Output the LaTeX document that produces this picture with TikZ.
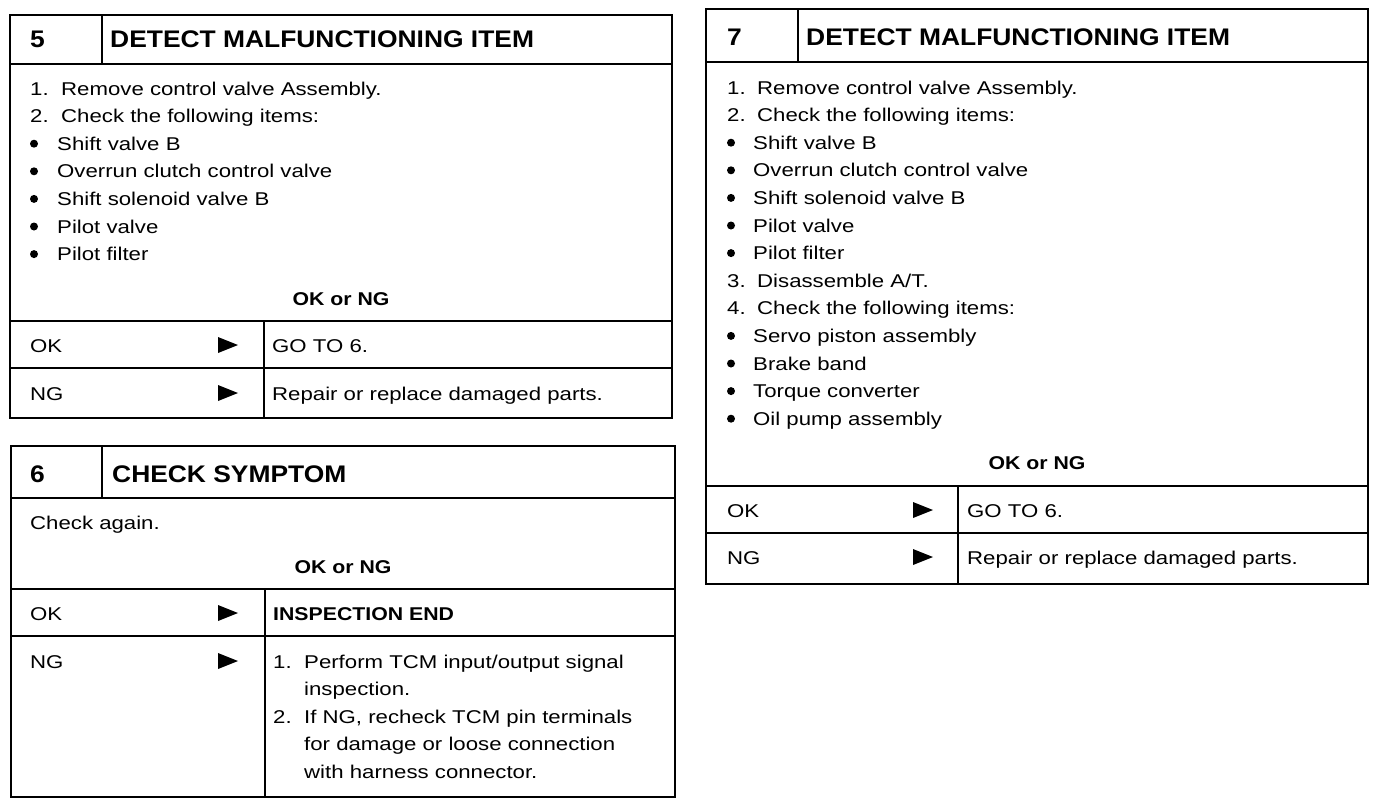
\documentclass[tikz,border=0pt]{standalone}
\usepackage{fontspec}
\newfontfamily\bodyf{Liberation Sans}[FakeStretch=1.2]
\newfontfamily\boldf{Liberation Sans Bold}[FakeStretch=1.15]
\newfontfamily\headf{Liberation Sans Bold}[FakeStretch=1.1]
\newcommand\tri[2]{\fill (#1-10,#2-8) -- (#1+10,#2) -- (#1-10,#2+8) -- cycle;}
\newcommand\bul[2]{\fill (#1,#2-6.5) circle (4pt);}
\begin{document}
\begin{tikzpicture}[x=1pt,y=-1pt,
  outer/.style={line width=2.8pt},
  inner/.style={line width=2pt},
  txt/.style={anchor=base west,inner sep=0pt,font=\bodyf\fontsize{18.5}{22}\selectfont},
  btxt/.style={anchor=base west,inner sep=0pt,font=\boldf\fontsize{18.5}{22}\selectfont},
  ctxt/.style={anchor=base,inner sep=0pt,font=\boldf\fontsize{18.5}{22}\selectfont},
  htxt/.style={anchor=base west,inner sep=0pt,font=\headf\fontsize{24}{28}\selectfont}]
\useasboundingbox (0,0) rectangle (1392,806);
\fill[white] (0,0) rectangle (1392,806);

% ---------------- Box 5 ----------------
\draw[outer] (10,15) rectangle (672,418);
\draw[inner] (10,64) -- (672,64);
\draw[inner] (102,15) -- (102,64);
\draw[inner] (10,321) -- (672,321);
\draw[inner] (10,368) -- (672,368);
\draw[inner] (264,321) -- (264,418);
\node[htxt] (b5n) at (30,47) {5};
\node[htxt] (b5h) at (110,47) {DETECT MALFUNCTIONING ITEM};
\node[txt] (b5a1) at (30,95) {1.};
\node[txt] (b5a2) at (61,95) {Remove control valve Assembly.};
\node[txt] (b5b1) at (30,122.6) {2.};
\node[txt] (b5b2) at (61,122.6) {Check the following items:};
\foreach \t [count=\i] in {Shift valve B,Overrun clutch control valve,Shift solenoid valve B,Pilot valve,Pilot filter}{
  \pgfmathsetmacro\yy{122.6+27.6*\i}
  \bul{34}{\yy}
  \node[txt] (b5c\i) at (57,\yy) {\t};
}
\node[ctxt] (b5ok) at (341,305) {OK or NG};
\node[txt] (b5r1) at (30,352) {OK};
\tri{228}{345}
\node[txt] (b5r1t) at (272,352) {GO TO 6.};
\node[txt] (b5r2) at (30,400) {NG};
\tri{228}{393}
\node[txt] (b5r2t) at (272,400) {Repair or replace damaged parts.};

% ---------------- Box 6 ----------------
\draw[outer] (11,446) rectangle (675,797);
\draw[inner] (11,498) -- (675,498);
\draw[inner] (102,446) -- (102,498);
\draw[inner] (11,589) -- (675,589);
\draw[inner] (11,636) -- (675,636);
\draw[inner] (265,589) -- (265,797);
\node[htxt] (b6n) at (30,482) {6};
\node[htxt] (b6h) at (112,482) {CHECK SYMPTOM};
\node[txt] (b6a) at (30,529) {Check again.};
\node[ctxt] (b6ok) at (343,573) {OK or NG};
\node[txt] (b6r1) at (30,620) {OK};
\tri{228}{613}
\node[btxt] (b6r1t) at (273,620) {INSPECTION END};
\node[txt] (b6r2) at (30,668) {NG};
\tri{228}{661}
\node[txt] (b6l1n) at (273,668) {1.};
\node[txt] (b6l1) at (304,668) {Perform TCM input/output signal};
\node[txt] (b6l2) at (304,695.6) {inspection.};
\node[txt] (b6l3n) at (273,723.2) {2.};
\node[txt] (b6l3) at (304,723.2) {If NG, recheck TCM pin terminals};
\node[txt] (b6l4) at (304,750.8) {for damage or loose connection};
\node[txt] (b6l5) at (304,778.4) {with harness connector.};

% ---------------- Box 7 ----------------
\draw[outer] (706,9) rectangle (1368,584);
\draw[inner] (706,62) -- (1368,62);
\draw[inner] (798,9) -- (798,62);
\draw[inner] (706,486) -- (1368,486);
\draw[inner] (706,533) -- (1368,533);
\draw[inner] (958,486) -- (958,584);
\node[htxt] (b7n) at (727,45) {7};
\node[htxt] (b7h) at (806,45) {DETECT MALFUNCTIONING ITEM};
\node[txt] (b7a1) at (727,94) {1.};
\node[txt] (b7a2) at (757,94) {Remove control valve Assembly.};
\node[txt] (b7b1) at (727,121.6) {2.};
\node[txt] (b7b2) at (757,121.6) {Check the following items:};
\foreach \t [count=\i] in {Shift valve B,Overrun clutch control valve,Shift solenoid valve B,Pilot valve,Pilot filter}{
  \pgfmathsetmacro\yy{121.6+27.6*\i}
  \bul{731}{\yy}
  \node[txt] (b7c\i) at (753,\yy) {\t};
}
\node[txt] (b7d1) at (727,287.2) {3.};
\node[txt] (b7d2) at (757,287.2) {Disassemble A/T.};
\node[txt] (b7e1) at (727,314.8) {4.};
\node[txt] (b7e2) at (757,314.8) {Check the following items:};
\foreach \t [count=\i] in {Servo piston assembly,Brake band,Torque converter,Oil pump assembly}{
  \pgfmathsetmacro\yy{314.8+27.6*\i}
  \bul{731}{\yy}
  \node[txt] (b7f\i) at (753,\yy) {\t};
}
\node[ctxt] (b7ok) at (1037,469) {OK or NG};
\node[txt] (b7r1) at (727,517) {OK};
\tri{923}{510}
\node[txt] (b7r1t) at (967,517) {GO TO 6.};
\node[txt] (b7r2) at (727,564) {NG};
\tri{923}{557}
\node[txt] (b7r2t) at (967,564) {Repair or replace damaged parts.};
\end{tikzpicture}
\end{document}
